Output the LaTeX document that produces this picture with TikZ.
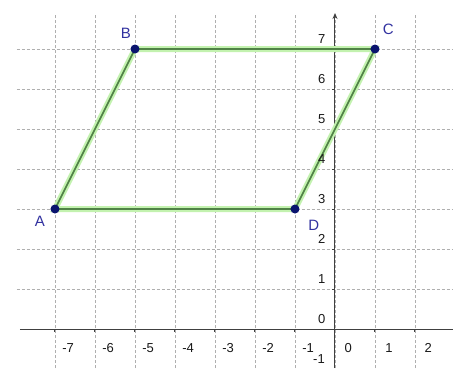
\documentclass[tikz,border=0pt]{standalone}
\usepackage{fontspec}
\setmainfont{Liberation Sans}
\usetikzlibrary{arrows.meta}
\definecolor{gridc}{RGB}{175,175,175}
\definecolor{segc}{RGB}{80,130,70}
\definecolor{haloc}{RGB}{195,242,175}
\definecolor{ptc}{RGB}{10,20,110}
\definecolor{lblc}{RGB}{50,50,160}
\tikzset{
  gridline/.style={gridc, dash pattern=on 3pt off 2pt, line width=0.8pt},
  axisline/.style={black!75, line width=1pt},
  halo/.style={haloc, line width=6pt, line cap=round},
  seg/.style={segc, line width=1.6pt},
  pt/.style={circle, fill=ptc, inner sep=0pt, minimum size=9pt},
  ptlabel/.style={text=lblc, font=\fontsize{15}{15}\selectfont},
  numlabel/.style={text=black!90, font=\fontsize{13}{13}\selectfont, inner sep=0pt}
}
\begin{document}
\begin{tikzpicture}[x=40pt,y=40pt]
\useasboundingbox[fill=white] (-8.375,-0.975) rectangle (2.95,8.225);
% grid
\foreach \i in {-7,...,2} \draw[gridline] (\i,-0.975) -- (\i,7.85);
\foreach \j in {1,...,7} \draw[gridline] (-7.95,\j) -- (2.95,\j);
% axes
\draw[axisline] (-7.88,0) -- (2.95,0);
\draw[axisline,-{Stealth[length=6pt,width=5pt]}] (0,-0.975) -- (0,7.9);
\foreach \i in {-7,...,-1,1,2} \draw[axisline] (\i,0) -- (\i,-0.08);
\foreach \j in {1,...,7} \draw[axisline] (0,\j) -- (-0.08,\j);
% points
\coordinate (Ac) at (-7,3);
\coordinate (Bc) at (-5,7);
\coordinate (Cc) at (1,7);
\coordinate (Dc) at (-1,3);
\draw[halo] (Ac) -- (Bc) -- (Cc) -- (Dc) -- cycle;
\draw[seg] (Ac) -- (Bc) -- (Cc) -- (Dc) -- cycle;
% numbers
\foreach \i in {-7,...,-1} \node[numlabel] (xl\the\numexpr-\i\relax) at (\i+0.33,-0.48) {-\the\numexpr-\i\relax};
\node[numlabel] (x0) at (0.33,-0.48) {0};
\node[numlabel] (x1) at (1.35,-0.48) {1};
\node[numlabel] (x2) at (2.33,-0.48) {2};
\foreach \j in {0,...,7} \node[numlabel] (yl\j) at (-0.33,\j+0.25) {\j};
\node[numlabel] (ym1) at (-0.4,-0.74) {-1};
\node[pt] (A) at (Ac) {};
\node[pt] (B) at (Bc) {};
\node[pt] (C) at (Cc) {};
\node[pt] (D) at (Dc) {};
\node[ptlabel] (lA) at (-7.38,2.68) {A};
\node[ptlabel] (lB) at (-5.23,7.4) {B};
\node[ptlabel] (lC) at (1.33,7.5) {C};
\node[ptlabel] (lD) at (-0.53,2.6) {D};
\end{tikzpicture}
\end{document}
